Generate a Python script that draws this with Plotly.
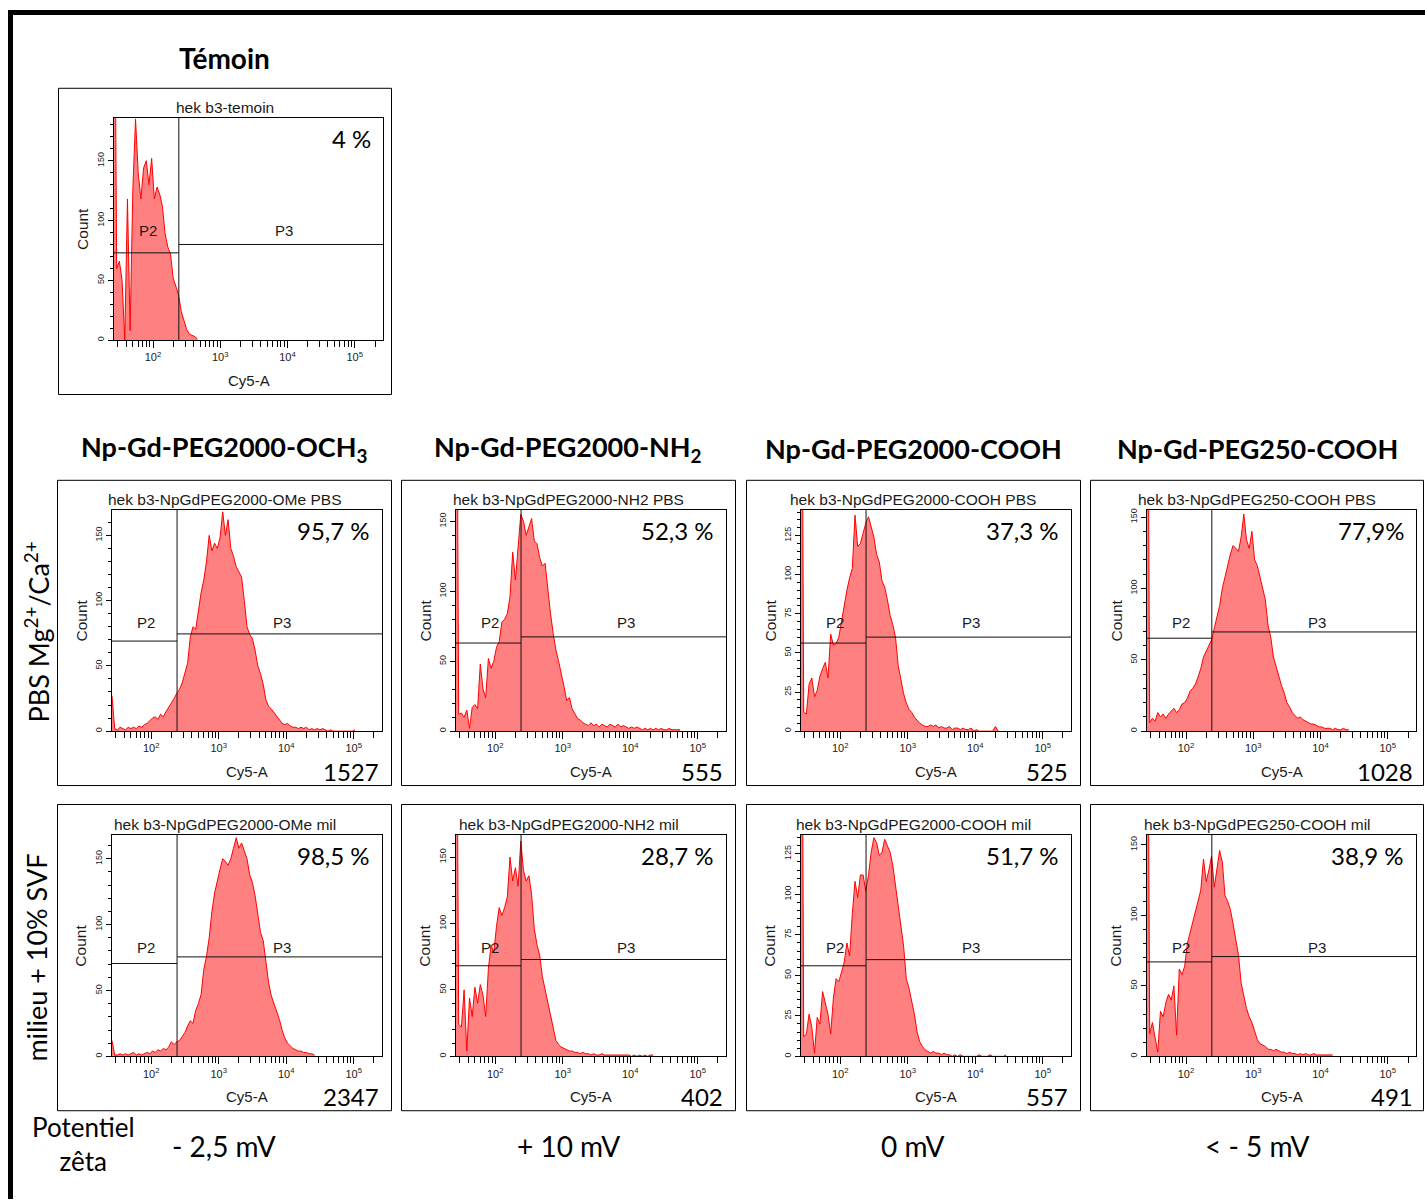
import plotly.graph_objects as go

W, H = 1425, 1200

# ---------------- DATA ----------------
# histogram bins: log10(Cy5-A) grid, start and step (decades)
BIN_START_LOG = 1.42
BIN_STEP_LOG = 0.04
X_RANGE_LOG = [1.42, 5.42]
GATE_CY5 = 242  # P2 / P3 boundary on Cy5-A

panel_titles = [
    "hek b3-temoin",
    "hek b3-NpGdPEG2000-OMe PBS", "hek b3-NpGdPEG2000-NH2 PBS",
    "hek b3-NpGdPEG2000-COOH PBS", "hek b3-NpGdPEG250-COOH PBS",
    "hek b3-NpGdPEG2000-OMe mil", "hek b3-NpGdPEG2000-NH2 mil",
    "hek b3-NpGdPEG2000-COOH mil", "hek b3-NpGdPEG250-COOH mil",
]

temoin_counts = [400, 60, 66, 50, 0, 118, 8, 126, 185, 140, 118, 144, 150, 130, 152, 118,
                 128, 122, 112, 89, 78, 72, 52, 44, 38, 24, 17, 9, 5, 4, 3, 1]

ome_pbs_counts = [27, 2, 1, 3, 2, 1, 3, 2, 3, 2, 4, 3, 5, 6, 8, 10, 11, 9, 13, 11, 15, 18, 22,
                  25, 29, 32, 37, 45, 52, 72, 80, 78, 92, 106, 116, 130, 150, 138, 144, 140,
                  148, 168, 150, 162, 140, 134, 126, 122, 118, 100, 80, 74, 71, 62, 50, 44,
                  36, 24, 19, 17, 14, 11, 8, 6, 5, 6, 4, 3, 3, 2, 3, 2, 3, 1, 2, 1, 2, 1, 2,
                  1, 0, 1, 0, 0, 0, 0, 0, 0, 0, 0, 1]

nh2_pbs_counts = [400, 12, 13, 10, 15, 2, 17, 19, 16, 48, 30, 24, 52, 45, 50, 60, 64, 78, 80,
                  84, 96, 128, 108, 132, 155, 150, 140, 146, 152, 136, 134, 124, 118, 120,
                  100, 84, 70, 58, 50, 42, 32, 22, 24, 16, 12, 9, 8, 6, 5, 4, 6, 4, 5, 3, 5,
                  4, 3, 5, 4, 3, 5, 3, 4, 3, 2, 3, 2, 3, 2, 1, 2, 1, 2, 1, 2, 1, 2, 1, 1, 2,
                  1, 1, 1, 1]

cooh_pbs_counts = [400, 12, 11, 30, 34, 22, 26, 35, 40, 44, 34, 62, 55, 56, 60, 70, 82, 90,
                   98, 104, 138, 118, 120, 126, 133, 137, 130, 124, 113, 108, 96, 92, 84,
                   74, 68, 60, 42, 32, 24, 18, 14, 12, 9, 7, 5, 4, 3, 3, 4, 3, 4, 2, 3, 2,
                   2, 3, 1, 2, 2, 1, 2, 1, 1, 2, 0, 1, 0, 0, 0, 0, 0, 0, 3, 0]

peg250_pbs_counts = [400, 6, 9, 7, 13, 10, 12, 9, 12, 14, 16, 13, 15, 19, 20, 23, 28, 30, 33,
                     38, 44, 52, 56, 60, 64, 72, 80, 88, 100, 108, 118, 124, 130, 128, 126,
                     136, 152, 134, 128, 140, 120, 116, 108, 102, 92, 74, 66, 52, 45, 40, 32,
                     27, 20, 17, 13, 11, 9, 10, 8, 7, 6, 5, 5, 4, 3, 3, 2, 2, 2, 1, 2, 1, 1,
                     2, 1, 1]

ome_mil_counts = [12, 1, 1, 2, 1, 2, 1, 2, 3, 1, 2, 1, 2, 3, 2, 4, 3, 5, 4, 6, 5, 7, 11, 9,
                  11, 12, 15, 18, 23, 27, 25, 35, 40, 47, 66, 76, 90, 110, 124, 134, 142, 150,
                  148, 145, 150, 158, 166, 158, 162, 156, 150, 138, 132, 122, 106, 94, 88,
                  72, 56, 46, 40, 34, 28, 20, 14, 10, 8, 6, 5, 4, 4, 3, 3, 2, 2, 1]

nh2_mil_counts = [400, 24, 22, 50, 4, 44, 30, 52, 40, 54, 46, 30, 66, 84, 78, 98, 112, 106,
                  112, 120, 150, 132, 142, 128, 162, 140, 132, 136, 122, 96, 84, 76, 60, 50,
                  40, 30, 22, 12, 9, 7, 6, 5, 4, 4, 3, 3, 2, 3, 2, 2, 1, 2, 1, 1, 2, 1, 1, 1,
                  1, 1, 1, 1, 1, 1, 1, 0, 1, 0, 1, 0, 1, 0, 1, 1]

cooh_mil_counts = [400, 12, 14, 26, 18, 2, 24, 20, 40, 32, 26, 14, 36, 48, 46, 52, 58, 70, 62,
                   88, 108, 98, 112, 112, 102, 112, 126, 135, 132, 124, 126, 134, 130, 126,
                   118, 106, 95, 82, 68, 48, 42, 34, 26, 15, 9, 6, 4, 3, 2, 3, 2, 2, 1, 2, 1,
                   1, 0, 1, 0, 1, 0, 0, 0, 0, 0, 0, 1, 0, 0, 0, 1, 0, 0, 0, 0, 0, 1]

peg250_mil_counts = [400, 16, 24, 14, 3, 32, 28, 38, 44, 40, 50, 15, 62, 58, 64, 80, 88, 96,
                     104, 110, 118, 140, 124, 132, 142, 120, 134, 146, 138, 114, 110, 104, 94,
                     82, 72, 52, 42, 34, 28, 24, 18, 12, 9, 8, 7, 5, 5, 4, 5, 4, 3, 3, 2, 3,
                     2, 2, 1, 2, 1, 2, 1, 1, 2, 1, 1, 1, 1, 1, 1, 1]

all_counts = [temoin_counts, ome_pbs_counts, nh2_pbs_counts, cooh_pbs_counts, peg250_pbs_counts,
              ome_mil_counts, nh2_mil_counts, cooh_mil_counts, peg250_mil_counts]

y_max = [186, 169.6, 158.3, 141.5, 155.1, 168.1, 166.7, 136.7, 157.1]
y_label_step = [50, 50, 50, 25, 50, 50, 50, 25, 50]
y_minor_step = [10, 10, 10, 5, 10, 10, 10, 5, 10]
p2_level = [73, 69, 63, 56.3, 65.1, 70.5, 68.2, 55.9, 67]
p3_level = [80, 74.5, 67.4, 60.1, 69.5, 75.5, 72.9, 59.7, 70.8]

percent_labels = ["4 %", "95,7 %", "52,3 %", "37,3 %", "77,9%", "98,5 %", "28,7 %", "51,7 %", "38,9 %"]
event_labels = [None, "1527", "555", "525", "1028", "2347", "402", "557", "491"]

x_tick_vals = [1e2, 1e3, 1e4, 1e5]
x_tick_text = ["10<sup>2</sup>", "10<sup>3</sup>", "10<sup>4</sup>", "10<sup>5</sup>"]

column_headers = ["Np-Gd-PEG2000-OCH<sub>3</sub>", "Np-Gd-PEG2000-NH<sub>2</sub>",
                  "Np-Gd-PEG2000-COOH", "Np-Gd-PEG250-COOH"]
row_labels = ["PBS Mg<sup>2+</sup>/Ca<sup>2+</sup>", "milieu + 10% SVF"]
zeta_title = "Potentiel<br>zêta"
zeta_labels = ["- 2,5 mV", "+ 10 mV", "0 mV", "< - 5 mV"]

# ---------------- GEOMETRY (pixels) ----------------
PLOT_BOX = [  # left, right, top, bottom
    (114, 383, 116, 339),
    (112, 382, 509, 731), (456, 726, 509, 731), (801, 1071, 509, 731), (1147, 1416, 509, 731),
    (112, 382, 835, 1057), (456, 726, 835, 1057), (801, 1071, 835, 1057), (1147, 1416, 835, 1057),
]
PANEL_BOX = [
    (58.5, 391.5, 86.5, 393.5),
    (57.5, 391.5, 479.5, 785.5), (401.5, 735.5, 479.5, 785.5), (746.5, 1080.5, 479.5, 785.5), (1090.5, 1423.5, 479.5, 785.5),
    (57.5, 391.5, 804.5, 1111.5), (401.5, 735.5, 804.5, 1111.5), (746.5, 1080.5, 804.5, 1111.5), (1090.5, 1423.5, 804.5, 1111.5),
]
COL_CENTERS = [224, 568, 913, 1257]

DIVA_FONT = "Liberation Sans, Arial, sans-serif"
BIG_FONT = "Lato, Open Sans, sans-serif"
TXT = "#1a1a1a"


def px(x):
    return x / W


def py(y):
    return 1 - y / H


minor_x_ticks = [m * 10 ** d for d in range(1, 6) for m in range(2, 10)]

fig = go.Figure()
layout = dict(
    width=W, height=H, margin=dict(l=0, r=0, t=0, b=0),
    paper_bgcolor="white", plot_bgcolor="white", showlegend=False,
)
annotations = []
shapes = []

for k in range(9):
    sfx = "" if k == 0 else str(k + 1)
    xr, yr = "x" + sfx, "y" + sfx
    L, R, T, B = PLOT_BOX[k]
    counts = all_counts[k]
    xs = [10 ** (BIN_START_LOG + BIN_STEP_LOG * i) for i in range(len(counts))]
    fig.add_trace(go.Scatter(
        x=xs, y=counts, mode="lines", line=dict(color="#ff0000", width=1),
        fill="tozeroy", fillcolor="#ff8080", xaxis=xr, yaxis=yr, hoverinfo="skip"))
    xmin, xmax = 10 ** X_RANGE_LOG[0], 10 ** X_RANGE_LOG[1]
    fig.add_trace(go.Scatter(
        x=[xmin, GATE_CY5, None, GATE_CY5, xmax, None, GATE_CY5, GATE_CY5],
        y=[p2_level[k], p2_level[k], None, p3_level[k], p3_level[k], None, 0, y_max[k]],
        mode="lines", line=dict(color="#111111", width=1), xaxis=xr, yaxis=yr,
        hoverinfo="skip", connectgaps=False))

    layout["xaxis" + sfx] = dict(
        domain=[px(L), px(R)], anchor=yr, type="log", range=X_RANGE_LOG,
        showline=True, mirror=True, linecolor="black", linewidth=1,
        showgrid=False, zeroline=False, ticks="outside", ticklen=7, tickcolor="black",
        tickmode="array", tickvals=x_tick_vals, ticktext=x_tick_text,
        tickfont=dict(family=DIVA_FONT, size=11, color=TXT),
        minor=dict(tickmode="array", tickvals=minor_x_ticks, ticks="outside",
                   ticklen=6, tickcolor="black", showgrid=False),
        fixedrange=True,
    )
    layout["yaxis" + sfx] = dict(
        domain=[py(B), py(T)], anchor=xr, range=[0, y_max[k]],
        showline=True, mirror=True, linecolor="black", linewidth=1,
        showgrid=False, zeroline=False, ticks="outside", ticklen=5, tickcolor="black",
        tickmode="linear", tick0=0, dtick=y_label_step[k], tickangle=-90,
        tickfont=dict(family=DIVA_FONT, size=9, color=TXT),
        minor=dict(tickmode="linear", tick0=0, dtick=y_minor_step[k], ticks="outside",
                   ticklen=3, tickcolor="black", showgrid=False),
        fixedrange=True,
    )

    pl, pr, pt, pb = PANEL_BOX[k]
    shapes.append(dict(type="rect", xref="paper", yref="paper", x0=px(pl), x1=px(pr),
                       y0=py(pb), y1=py(pt), line=dict(color="black", width=1)))
    annotations.append(dict(x=px((pl + pr) / 2), y=py(T - 10), xref="paper", yref="paper",
                            text=panel_titles[k], showarrow=False, xanchor="center", yanchor="middle",
                            font=dict(family=DIVA_FONT, size=15.5, color=TXT)))
    annotations.append(dict(x=px(L - 31), y=py((T + B) / 2), xref="paper", yref="paper",
                            text="Count", textangle=-90, showarrow=False,
                            xanchor="center", yanchor="middle",
                            font=dict(family=DIVA_FONT, size=15.5, color=TXT)))
    annotations.append(dict(x=px((L + R) / 2), y=py(B + 40), xref="paper", yref="paper",
                            text="Cy5-A", showarrow=False, xanchor="center", yanchor="middle",
                            font=dict(family=DIVA_FONT, size=15, color=TXT)))
    annotations.append(dict(x=px(L + 34), y=py(T + 113), xref="paper", yref="paper",
                            text="P2", showarrow=False, xanchor="center", yanchor="middle",
                            font=dict(family=DIVA_FONT, size=15, color=TXT)))
    annotations.append(dict(x=px(L + 170), y=py(T + 113), xref="paper", yref="paper",
                            text="P3", showarrow=False, xanchor="center", yanchor="middle",
                            font=dict(family=DIVA_FONT, size=15, color=TXT)))
    annotations.append(dict(x=px(R - 10), y=py(T + 21), xref="paper", yref="paper",
                            text=percent_labels[k], showarrow=False, xanchor="right", yanchor="middle",
                            font=dict(family=BIG_FONT, size=24, color="black")))
    if event_labels[k]:
        annotations.append(dict(x=px(R - 1), y=py(B + 40), xref="paper", yref="paper",
                                text=event_labels[k], showarrow=False, xanchor="right", yanchor="middle",
                                font=dict(family=BIG_FONT, size=24, color="black")))

annotations.append(dict(x=px(224), y=py(56), xref="paper", yref="paper", text="<b>Témoin</b>",
                        showarrow=False, xanchor="center", yanchor="middle",
                        font=dict(family=BIG_FONT, size=28, color="black")))
for c, txt in enumerate(column_headers):
    annotations.append(dict(x=px(COL_CENTERS[c]), y=py(448), xref="paper", yref="paper",
                            text="<b>" + txt + "</b>", showarrow=False, xanchor="center", yanchor="middle",
                            font=dict(family=BIG_FONT, size=27, color="black")))
for r, (txt, yc) in enumerate(zip(row_labels, [632, 958])):
    annotations.append(dict(x=px(37), y=py(yc), xref="paper", yref="paper", text=txt,
                            textangle=-90, showarrow=False, xanchor="center", yanchor="middle",
                            font=dict(family=BIG_FONT, size=27, color="black")))
annotations.append(dict(x=px(83), y=py(1145), xref="paper", yref="paper", text=zeta_title,
                        showarrow=False, xanchor="center", yanchor="middle",
                        font=dict(family=BIG_FONT, size=26, color="black")))
for c, txt in enumerate(zeta_labels):
    annotations.append(dict(x=px(COL_CENTERS[c]), y=py(1147), xref="paper", yref="paper",
                            text=txt, showarrow=False, xanchor="center", yanchor="middle",
                            font=dict(family=BIG_FONT, size=28, color="black")))

shapes.append(dict(type="line", xref="paper", yref="paper", x0=px(10.5), x1=px(10.5),
                   y0=0, y1=py(8), line=dict(color="black", width=5)))
shapes.append(dict(type="line", xref="paper", yref="paper", x0=px(8), x1=1,
                   y0=py(10.5), y1=py(10.5), line=dict(color="black", width=5)))

layout["annotations"] = annotations
layout["shapes"] = shapes
fig.update_layout(**layout)

fig.write_html("out.html", config={"displayModeBar": False},
               post_script="document.body.style.margin='0';")
